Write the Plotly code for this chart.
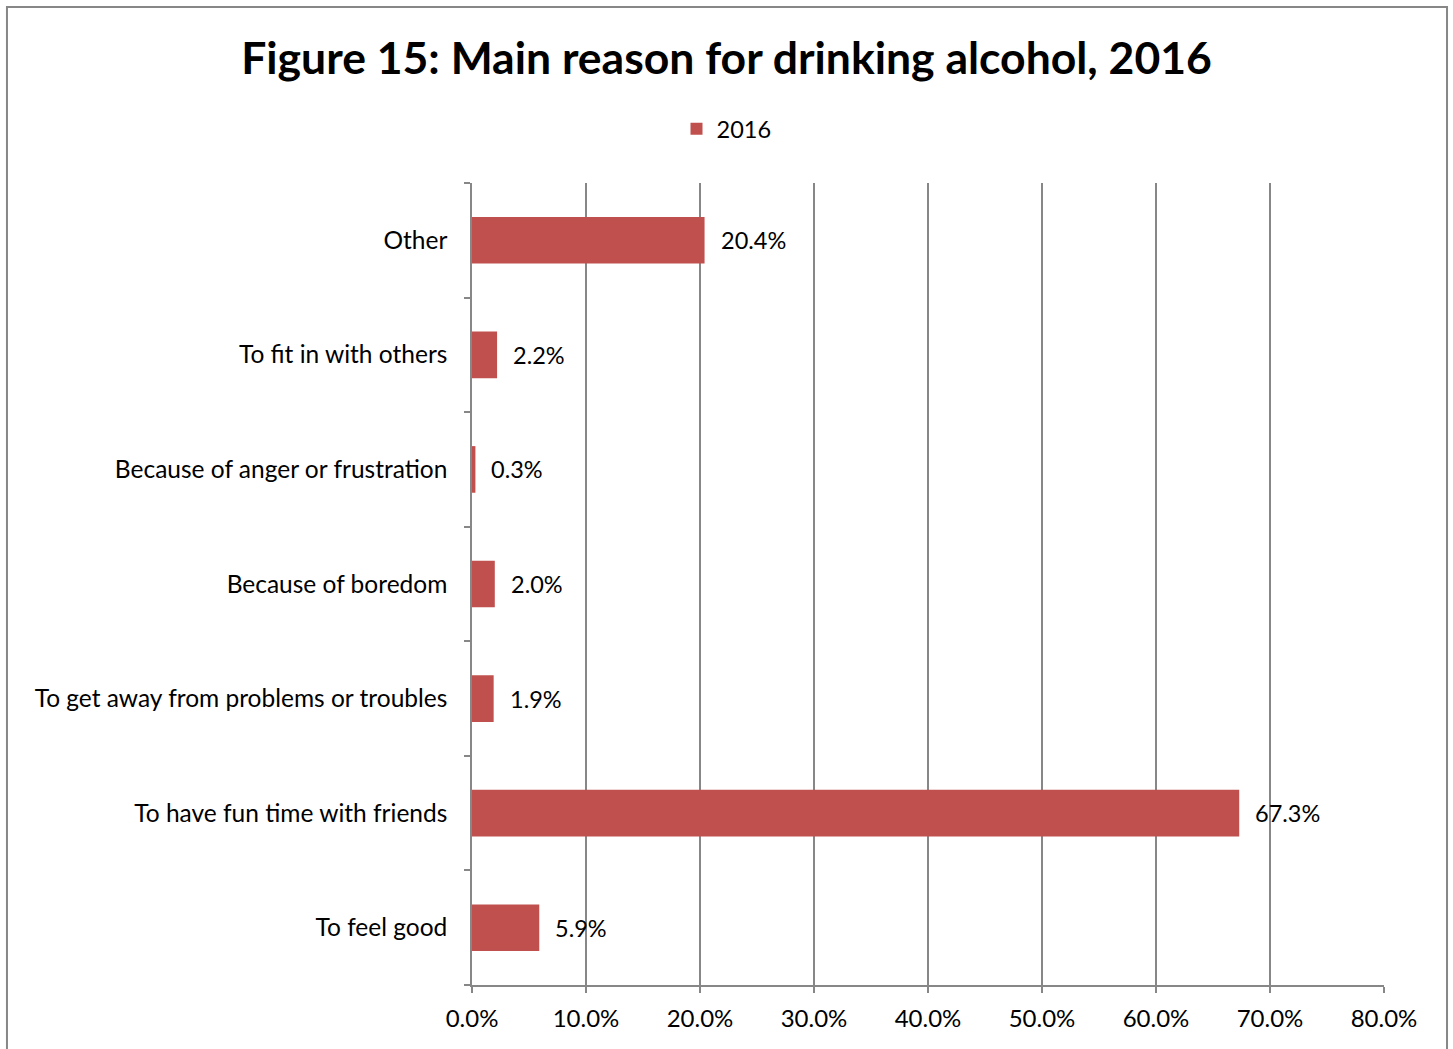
import plotly.graph_objects as go

# Reasons for drinking, listed bottom to top as drawn on the y axis
categories = [
    "To feel good",
    "To have fun time with friends",
    "To get away from problems or troubles",
    "Because of boredom",
    "Because of anger or frustration",
    "To fit in with others",
    "Other",
]
values_2016 = [5.9, 67.3, 1.9, 2.0, 0.3, 2.2, 20.4]
x_ticks = [0, 10, 20, 30, 40, 50, 60, 70, 80]
x_tick_labels = [f"{t:.1f}%" for t in x_ticks]

BAR_COLOR = "#C0504D"
GRID_COLOR = "#878787"
FONT = "Lato"

fig = go.Figure()
fig.add_trace(go.Bar(
    y=categories,
    x=values_2016,
    orientation="h",
    name="2016",
    marker=dict(color=BAR_COLOR, line=dict(width=0)),
))

# Value labels to the right of each bar
for cat, val in zip(categories, values_2016):
    fig.add_annotation(
        x=val, y=cat, text=f"{val:.1f}%", showarrow=False,
        xanchor="left", xshift=14, yanchor="middle",
        font=dict(family=FONT, size=23.5, color="#000000"),
    )

# Outer chart frame
fig.add_shape(
    type="rect", xref="paper", yref="paper",
    x0=-0.5099, x1=1.0691, y0=-0.2, y1=1.2195,
    line=dict(color="#878787", width=2), fillcolor="rgba(0,0,0,0)",
    layer="below",
)

fig.update_layout(
    width=1453, height=1049,
    margin=dict(l=472, r=69, t=183, b=64),
    paper_bgcolor="white", plot_bgcolor="white",
    bargap=0.593,
    font=dict(family=FONT, size=23.5, color="#000000"),
    title=dict(
        text="<b>Figure 15: Main reason for drinking alcohol, 2016</b>",
        x=0.5, xanchor="center", xref="container",
        y=1 - 58 / 1049, yanchor="middle", yref="container",
        font=dict(family=FONT, size=44.5, color="#000000"),
    ),
    showlegend=True,
    legend=dict(
        orientation="h", x=0.5, xref="container", xanchor="center",
        y=1 - 129 / 1049, yref="container", yanchor="middle",
        font=dict(family=FONT, size=23.5), itemwidth=30,
    ),
    xaxis=dict(
        range=[0, 80], tickvals=x_ticks, ticktext=x_tick_labels,
        showgrid=True, gridcolor=GRID_COLOR, gridwidth=1.5,
        showline=True, linecolor=GRID_COLOR, linewidth=1.5,
        ticks="outside", ticklen=6, tickcolor=GRID_COLOR, tickwidth=1.5,
        zeroline=False, fixedrange=True, ticklabelstandoff=5,
        tickfont=dict(family=FONT, size=24),
    ),
    yaxis=dict(
        categoryorder="array", categoryarray=categories,
        showline=True, linecolor=GRID_COLOR, linewidth=1.5,
        ticks="outside", ticklen=6, tickcolor=GRID_COLOR, tickwidth=1.5,
        tickson="boundaries", showgrid=False, fixedrange=True,
        ticklabelstandoff=18,
        tickfont=dict(family=FONT, size=24.5),
    ),
)

fig.write_html("out.html")
